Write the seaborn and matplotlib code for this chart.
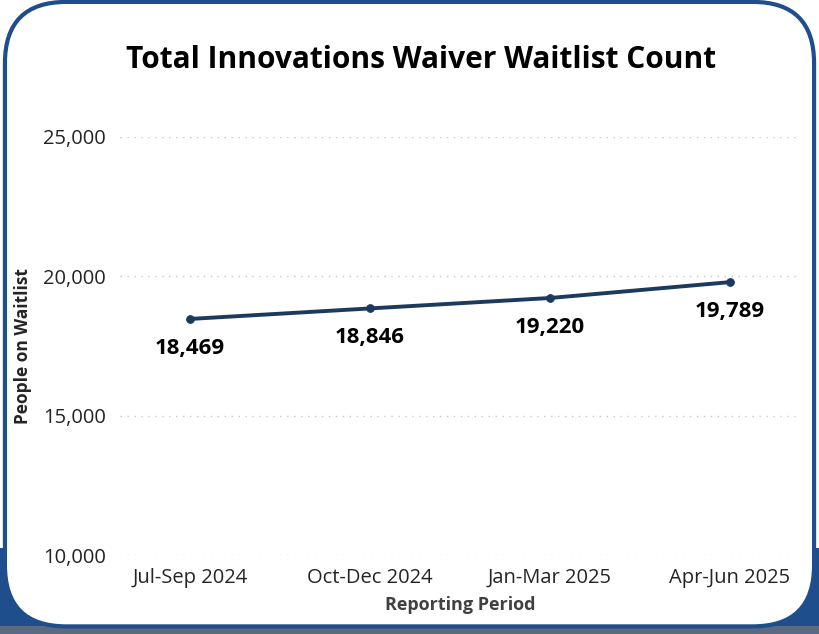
import matplotlib
matplotlib.use("Agg")
import matplotlib.pyplot as plt
from matplotlib.patches import FancyBboxPatch, Rectangle
import seaborn as sns
import pandas as pd

# data
periods = ["Jul-Sep 2024", "Oct-Dec 2024", "Jan-Mar 2025", "Apr-Jun 2025"]
waitlist = [18469, 18846, 19220, 19789]
y_ticks = [10000, 15000, 20000, 25000]

df = pd.DataFrame({"period": periods, "count": waitlist})

sns.set_theme(style="white")
plt.rcParams["font.family"] = ["Open Sans", "DejaVu Sans"]

line_color = "#1c3a5e"
border_color = "#1f4e8c"

fig = plt.figure(figsize=(8.19, 6.34), dpi=100)
fig.patch.set_facecolor("white")

# background strips and card
fig.patches.append(Rectangle((0, 0), 1, 0.135, transform=fig.transFigure,
                             facecolor=border_color, edgecolor="none", zorder=0))
fig.patches.append(Rectangle((0, 0), 1, 0.012, transform=fig.transFigure,
                             facecolor="#5a6a80", edgecolor="none", zorder=0))
card = FancyBboxPatch((0.006, 0.012), 0.988, 0.985,
                      boxstyle="round,pad=0,rounding_size=0.075",
                      transform=fig.transFigure, mutation_aspect=819 / 634,
                      facecolor="white", edgecolor=border_color, linewidth=3,
                      zorder=1)
fig.patches.append(card)

ax = fig.add_axes([0.1465, 0.1246, 0.8305, 0.6595])
ax.set_facecolor("none")
ax.set_zorder(2)

sns.lineplot(data=df, x="period", y="count", ax=ax, color=line_color,
             linewidth=2.8, marker="o", markersize=5.5,
             markeredgecolor=line_color, sort=False)

for i, v in enumerate(waitlist):
    ax.annotate(f"{v:,}", (i, v), xytext=(0, -21), textcoords="offset points",
                ha="center", va="center", fontsize=16, fontweight="bold",
                color="black")

ax.set_xlim(-0.39, 3.39)
ax.set_ylim(10000, 25000)
ax.set_yticks(y_ticks)
ax.set_yticklabels([f"{t:,}" for t in y_ticks])
ax.grid(axis="y", linestyle=(0, (1, 4)), color="#c8c8c8", linewidth=1)
ax.grid(axis="x", visible=False)
for s in ax.spines.values():
    s.set_visible(False)
ax.tick_params(axis="both", length=0, labelsize=14.5, colors="#252423")
ax.tick_params(axis="y", pad=10)
ax.tick_params(axis="x", pad=9)

ax.set_xlabel("Reporting Period", fontsize=13, fontweight="bold",
              color="#404040", labelpad=6)
ax.set_ylabel("People on Waitlist", fontsize=12.5, fontweight="bold",
              color="#252423", labelpad=8)

fig.text(0.514, 0.906, "Total Innovations Waiver Waitlist Count",
         ha="center", va="center", fontsize=21.5, fontweight="bold",
         color="black")

fig.savefig("out.png", dpi=100, facecolor=fig.get_facecolor())
